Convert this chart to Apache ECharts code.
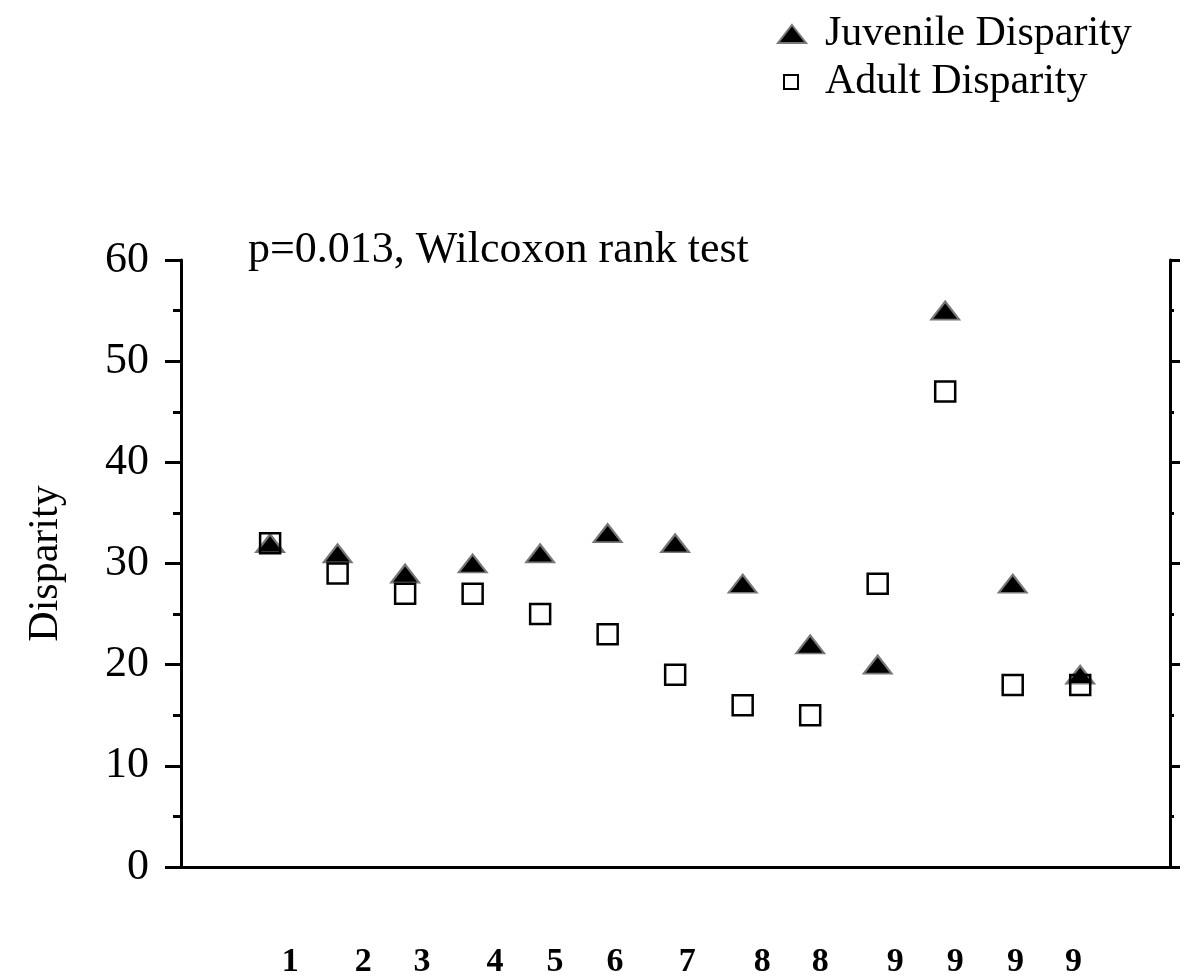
<!DOCTYPE html>
<html>
<head>
<meta charset="utf-8">
<script src="https://cdn.jsdelivr.net/npm/echarts@6/dist/echarts.min.js"></script>
<style>
html, body { margin: 0; padding: 0; background: #fff; }
#main { width: 1185px; height: 979px; }
</style>
</head>
<body>
<div id="main"></div>
<script>
// pair index of each point along the x axis
var pairIdx = [0, 1, 2, 3, 4, 5, 6, 7, 8, 9, 10, 11, 12];
var juvenile = [32, 31, 29, 30, 31, 33, 32, 28, 22, 20, 55, 28, 19];
var adult = [32, 29, 27, 27, 25, 23, 19, 16, 15, 28, 47, 18, 18];
// the bottom labels sit a bit off the points in the original
var xLabels = ['1', '2', '3', '4', '5', '6', '7', '8', '8', '9', '9', '9', '9'];
var xLabelPos = [0.30, 1.38, 2.25, 3.33, 4.22, 5.11, 6.18, 7.29, 8.15, 9.26, 10.15, 11.04, 11.90];
var yMin = 0, yMax = 60, yStep = 10;

var serif = '"Liberation Serif", "Times New Roman", serif';

var myChart = echarts.init(document.getElementById('main'));

function zip(xs, ys) {
    return xs.map(function (x, i) { return [x, ys[i]]; });
}

var legendText = { fontFamily: serif, fontSize: 42, color: '#000' };

var option = {
    animation: false,
    backgroundColor: '#fff',
    title: {
        text: 'p=0.013, Wilcoxon rank test',
        left: 243,
        top: 223,
        textStyle: { fontFamily: serif, fontSize: 44, fontWeight: 'normal', color: '#000' }
    },
    // two legends so each icon can get its own size
    legend: [{
        left: 772,
        top: 8,
        itemWidth: 28,
        itemHeight: 18,
        data: ['Juvenile Disparity'],
        textStyle: Object.assign({ padding: [0, 0, 0, 14] }, legendText)
    }, {
        left: 778,
        top: 56,
        itemWidth: 14,
        itemHeight: 14,
        data: ['Adult Disparity'],
        textStyle: Object.assign({ padding: [0, 0, 0, 22] }, legendText)
    }],
    grid: { left: 181, right: 15, top: 260, bottom: 107 },
    xAxis: [{
        type: 'value',
        min: -1.32,
        max: 13.33,
        axisLine: { onZero: false, lineStyle: { color: '#000', width: 3 } },
        axisTick: { show: false },
        axisLabel: { show: false },
        splitLine: { show: false }
    }, {
        type: 'value',
        min: -1.32,
        max: 13.33,
        position: 'bottom',
        offset: 70,
        axisLine: { show: false },
        axisTick: { show: false },
        splitLine: { show: false },
        axisLabel: {
            customValues: xLabelPos,
            fontFamily: serif,
            fontSize: 34,
            fontWeight: 'bold',
            color: '#000',
            formatter: function (v) {
                var i = xLabelPos.indexOf(v);
                return i >= 0 ? xLabels[i] : '';
            }
        }
    }],
    yAxis: [{
        type: 'value',
        position: 'left',
        min: yMin,
        max: yMax,
        interval: yStep,
        name: 'Disparity',
        nameLocation: 'middle',
        nameRotate: 90,
        nameGap: 114,
        nameTextStyle: { fontFamily: serif, fontSize: 42, color: '#000' },
        axisLine: { show: true, onZero: false, lineStyle: { color: '#000', width: 3 } },
        axisTick: { show: true, length: 16, lineStyle: { color: '#000', width: 3 } },
        minorTick: { show: true, splitNumber: 2, length: 8, lineStyle: { color: '#000', width: 3 } },
        axisLabel: { fontFamily: serif, fontSize: 44, color: '#000', margin: 32 },
        splitLine: { show: false }
    }, {
        type: 'value',
        position: 'right',
        min: yMin,
        max: yMax,
        interval: yStep,
        axisLine: { show: true, onZero: false, lineStyle: { color: '#000', width: 3 } },
        axisTick: { show: true, length: 10, lineStyle: { color: '#000', width: 3 } },
        minorTick: { show: true, splitNumber: 2, length: 4, lineStyle: { color: '#000', width: 3 } },
        axisLabel: { show: false },
        splitLine: { show: false }
    }],
    series: [{
        name: 'Juvenile Disparity',
        type: 'scatter',
        data: zip(pairIdx, juvenile),
        symbol: 'triangle',
        symbolSize: [28, 18],
        itemStyle: { color: '#000', borderColor: '#777', borderWidth: 2, opacity: 1 }
    }, {
        name: 'Adult Disparity',
        type: 'scatter',
        data: zip(pairIdx, adult),
        symbol: 'rect',
        symbolSize: 20,
        itemStyle: { color: 'rgba(255,255,255,0)', borderColor: '#000', borderWidth: 2.5, opacity: 1 }
    }]
};

myChart.setOption(option);
</script>
</body>
</html>
